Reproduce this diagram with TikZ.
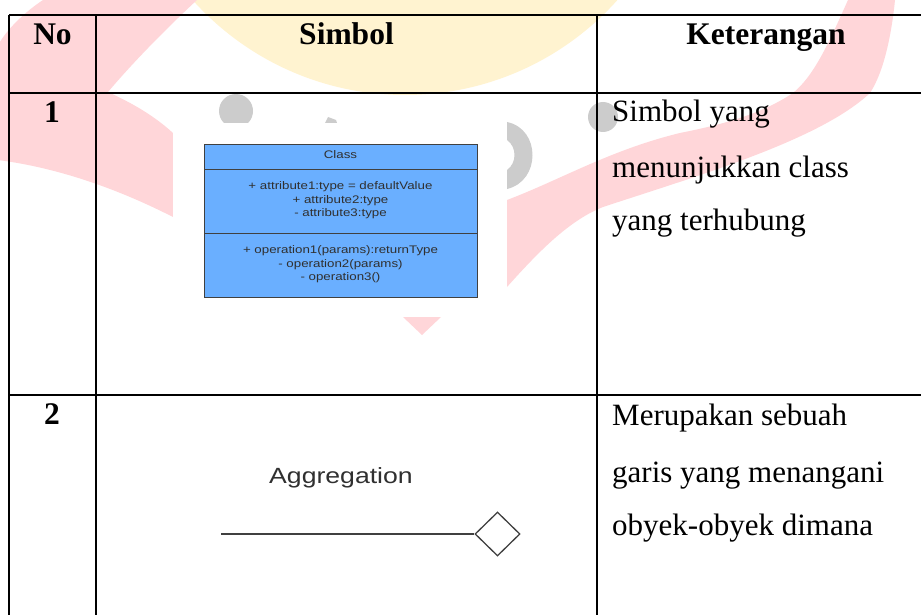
\documentclass[tikz,border=0pt]{standalone}
\usepackage{fontspec}
\setmainfont{Liberation Serif}
\newfontfamily\umlfont[FakeStretch=1.21]{Liberation Sans}
\usetikzlibrary{shapes.geometric}
\definecolor{wmpink}{HTML}{FFD6D9}
\definecolor{wmyellow}{HTML}{FFF3D0}
\definecolor{wmgrey}{HTML}{CCCCCC}
\definecolor{umlblue}{HTML}{6AAFFF}
\definecolor{umlline}{HTML}{404040}
\definecolor{umltext}{HTML}{303030}
\begin{document}
\begin{tikzpicture}[x=1pt,y=-1pt,
  grid/.style={line width=2.3pt, black},
  thingrid/.style={line width=1.2pt, black},
  head/.style={font=\fontsize{31.5}{36}\selectfont\bfseries, anchor=base, inner sep=0pt},
  body/.style={font=\fontsize{31}{36}\selectfont, anchor=base west, inner sep=0pt},
  uml/.style={font=\umlfont\fontsize{11}{13}\selectfont, text=umltext, anchor=base, inner sep=0pt},
  aggdiamond/.style={diamond, draw=umlline, line width=1.3pt, fill=white, minimum width=45pt, minimum height=44pt, inner sep=0pt},
]
\useasboundingbox (0,0) rectangle (921,615);
\fill[white] (0,0) rectangle (921,615);

% ---- watermark ----
\fill[wmyellow] (405,-190) circle (285);
\fill[wmpink] (43,0) .. controls (25,12) and (8,28) .. (-2,45) -- (-2,160)
  .. controls (60,168) and (120,190) .. (173,217) -- (260,260) -- (260,140) -- (173,133)
  .. controls (150,112) and (125,100) .. (108,92)
  .. controls (135,60) and (170,25) .. (197,0) -- cycle;
\fill[wmpink] (848,0) .. controls (830,40) and (815,75) .. (793,93)
  .. controls (760,115) and (720,125) .. (680,133)
  .. controls (610,150) and (560,180) .. (507,200) -- (440,230) -- (440,300) -- (507,287)
  .. controls (540,250) and (570,220) .. (603,207)
  .. controls (700,175) and (820,140) .. (870,93)
  .. controls (885,70) and (892,30) .. (895,0) -- cycle;
\fill[wmpink] (403,317) -- (441,317) -- (422,335) -- cycle;
\fill[wmgrey] (236,111) circle (17);
\fill[wmgrey] (325,123) -- (328,117) -- (336,120) -- (337,123) -- cycle;
\fill[wmgrey] (507,122) .. controls (541,129) and (541,181) .. (507,189) -- (507,170)
  .. controls (517,163) and (517,147) .. (507,140) -- cycle;
\fill[wmgrey] (603,117) circle (15);
\fill[white] (173,123) rectangle (507,317);

% ---- table ----
\draw[grid] (9,15) -- (921,15);
\draw[grid] (9,93) -- (921,93);
\draw[grid] (9,15) -- (9,615);
\draw[grid] (96,15) -- (96,615);
\draw[grid] (597,15) -- (597,615);
\draw[grid] (9,395) -- (109,395);
\draw[thingrid] (109,395) -- (583,395);
\draw[grid] (583,395) -- (921,395);

\node[head] (hNo) at (52.5,45) {No};
\node[head] (hSim) at (346.5,45) {Simbol};
\node[head] (hKet) at (766,45) {Keterangan};
\node[head] (n1) at (52,123) {1};
\node[head] (n2) at (52,424) {2};

\node[body] (k1a) at (612,122) {Simbol yang};
\node[body] (k1b) at (612,177) {menunjukkan class};
\node[body] (k1c) at (612,230) {yang terhubung};
\node[body] (k2a) at (612,425) {Merupakan sebuah};
\node[body] (k2b) at (612,482) {garis yang menangani};
\node[body] (k2c) at (612,535) {obyek-obyek dimana};

% ---- UML class ----
\draw[umlline, fill=umlblue, line width=1pt] (204,145) rectangle (477,297);
\draw[umlline, line width=1pt] (204,169) -- (477,169);
\draw[umlline, line width=1pt] (204,233) -- (477,233);
\node[uml] (cname) at (340.5,159) {Class};
\node[uml] (at1) at (340.5,189.3) {+ attribute1:type = defaultValue};
\node[uml] (at2) at (340.5,203.3) {+ attribute2:type};
\node[uml] (at3) at (340.5,216.7) {- attribute3:type};
\node[uml] (op1) at (340.5,253.3) {+ operation1(params):returnType};
\node[uml] (op2) at (340.5,267.3) {- operation2(params)};
\node[uml] (op3) at (340.5,280.7) {- operation3()};

% ---- Aggregation ----
\node[font=\umlfont\fontsize{22}{26}\selectfont, text=umltext, anchor=base, inner sep=0pt] (aggtxt) at (341,483) {Aggregation};
\coordinate (aggL) at (221,534);
\node[aggdiamond] (agg) at (497.5,534) {};
\draw[umlline, line width=1.3pt] (aggL) -- (agg.west);
\end{tikzpicture}
\end{document}
